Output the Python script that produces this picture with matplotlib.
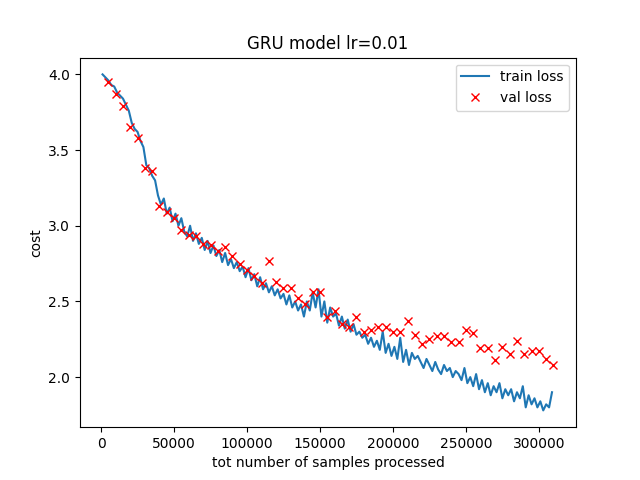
import numpy as np
import matplotlib
matplotlib.use("Agg")
import matplotlib.pyplot as plt

train_x = np.arange(1000, 310000, 2000)
train_loss = [
    4.00, 3.98, 3.96, 3.93, 3.92, 3.88, 3.86, 3.84, 3.80, 3.76,
    3.68, 3.64, 3.62, 3.56, 3.52, 3.40, 3.38, 3.33, 3.30, 3.20,
    3.14, 3.18, 3.08, 3.12, 3.03, 3.08, 3.00, 3.05, 2.96, 2.93,
    3.00, 2.90, 2.95, 2.88, 2.92, 2.84, 2.90, 2.82, 2.87, 2.80,
    2.84, 2.76, 2.82, 2.74, 2.78, 2.72, 2.76, 2.70, 2.73, 2.66,
    2.72, 2.64, 2.68, 2.60, 2.66, 2.58, 2.62, 2.56, 2.60, 2.54,
    2.58, 2.52, 2.55, 2.48, 2.54, 2.46, 2.50, 2.44, 2.48, 2.40,
    2.50, 2.44, 2.56, 2.46, 2.58, 2.40, 2.50, 2.36, 2.46, 2.40,
    2.42, 2.34, 2.40, 2.32, 2.38, 2.30, 2.35, 2.28, 2.30, 2.26,
    2.28, 2.22, 2.26, 2.20, 2.24, 2.18, 2.30, 2.16, 2.22, 2.14,
    2.20, 2.12, 2.26, 2.10, 2.18, 2.08, 2.16, 2.12, 2.14, 2.10,
    2.06, 2.12, 2.08, 2.04, 2.10, 2.05, 2.02, 2.08, 2.04, 2.06,
    2.00, 2.04, 2.02, 1.98, 2.06, 1.96, 2.00, 1.94, 2.02, 1.92,
    1.98, 1.90, 1.96, 1.88, 1.94, 1.90, 1.96, 1.86, 1.92, 1.88,
    1.92, 1.84, 1.90, 1.86, 1.94, 1.80, 1.88, 1.82, 1.86, 1.80,
    1.84, 1.78, 1.82, 1.80, 1.90,
]

val_x = np.arange(5000, 310001, 5000)
val_loss = [
    3.95, 3.87, 3.79, 3.65, 3.58, 3.38, 3.36, 3.13, 3.09, 3.05,
    2.97, 2.94, 2.93, 2.88, 2.87, 2.83, 2.86, 2.80, 2.75, 2.71,
    2.67, 2.62, 2.77, 2.63, 2.59, 2.59, 2.52, 2.48, 2.56, 2.56,
    2.40, 2.44, 2.35, 2.33, 2.40, 2.30, 2.31, 2.33, 2.33, 2.30,
    2.30, 2.37, 2.28, 2.22, 2.25, 2.27, 2.27, 2.23, 2.23, 2.31,
    2.29, 2.19, 2.19, 2.11, 2.20, 2.15, 2.24, 2.15, 2.17, 2.17,
    2.12, 2.08,
]

plt.figure(figsize=(6.4, 4.8), dpi=100)
plt.plot(train_x, train_loss, label="train loss")
plt.plot(val_x, val_loss, "rx", label="val loss")
plt.title("GRU model lr=0.01")
plt.xlabel("tot number of samples processed")
plt.ylabel("cost")
plt.legend()
plt.savefig("out.png")
